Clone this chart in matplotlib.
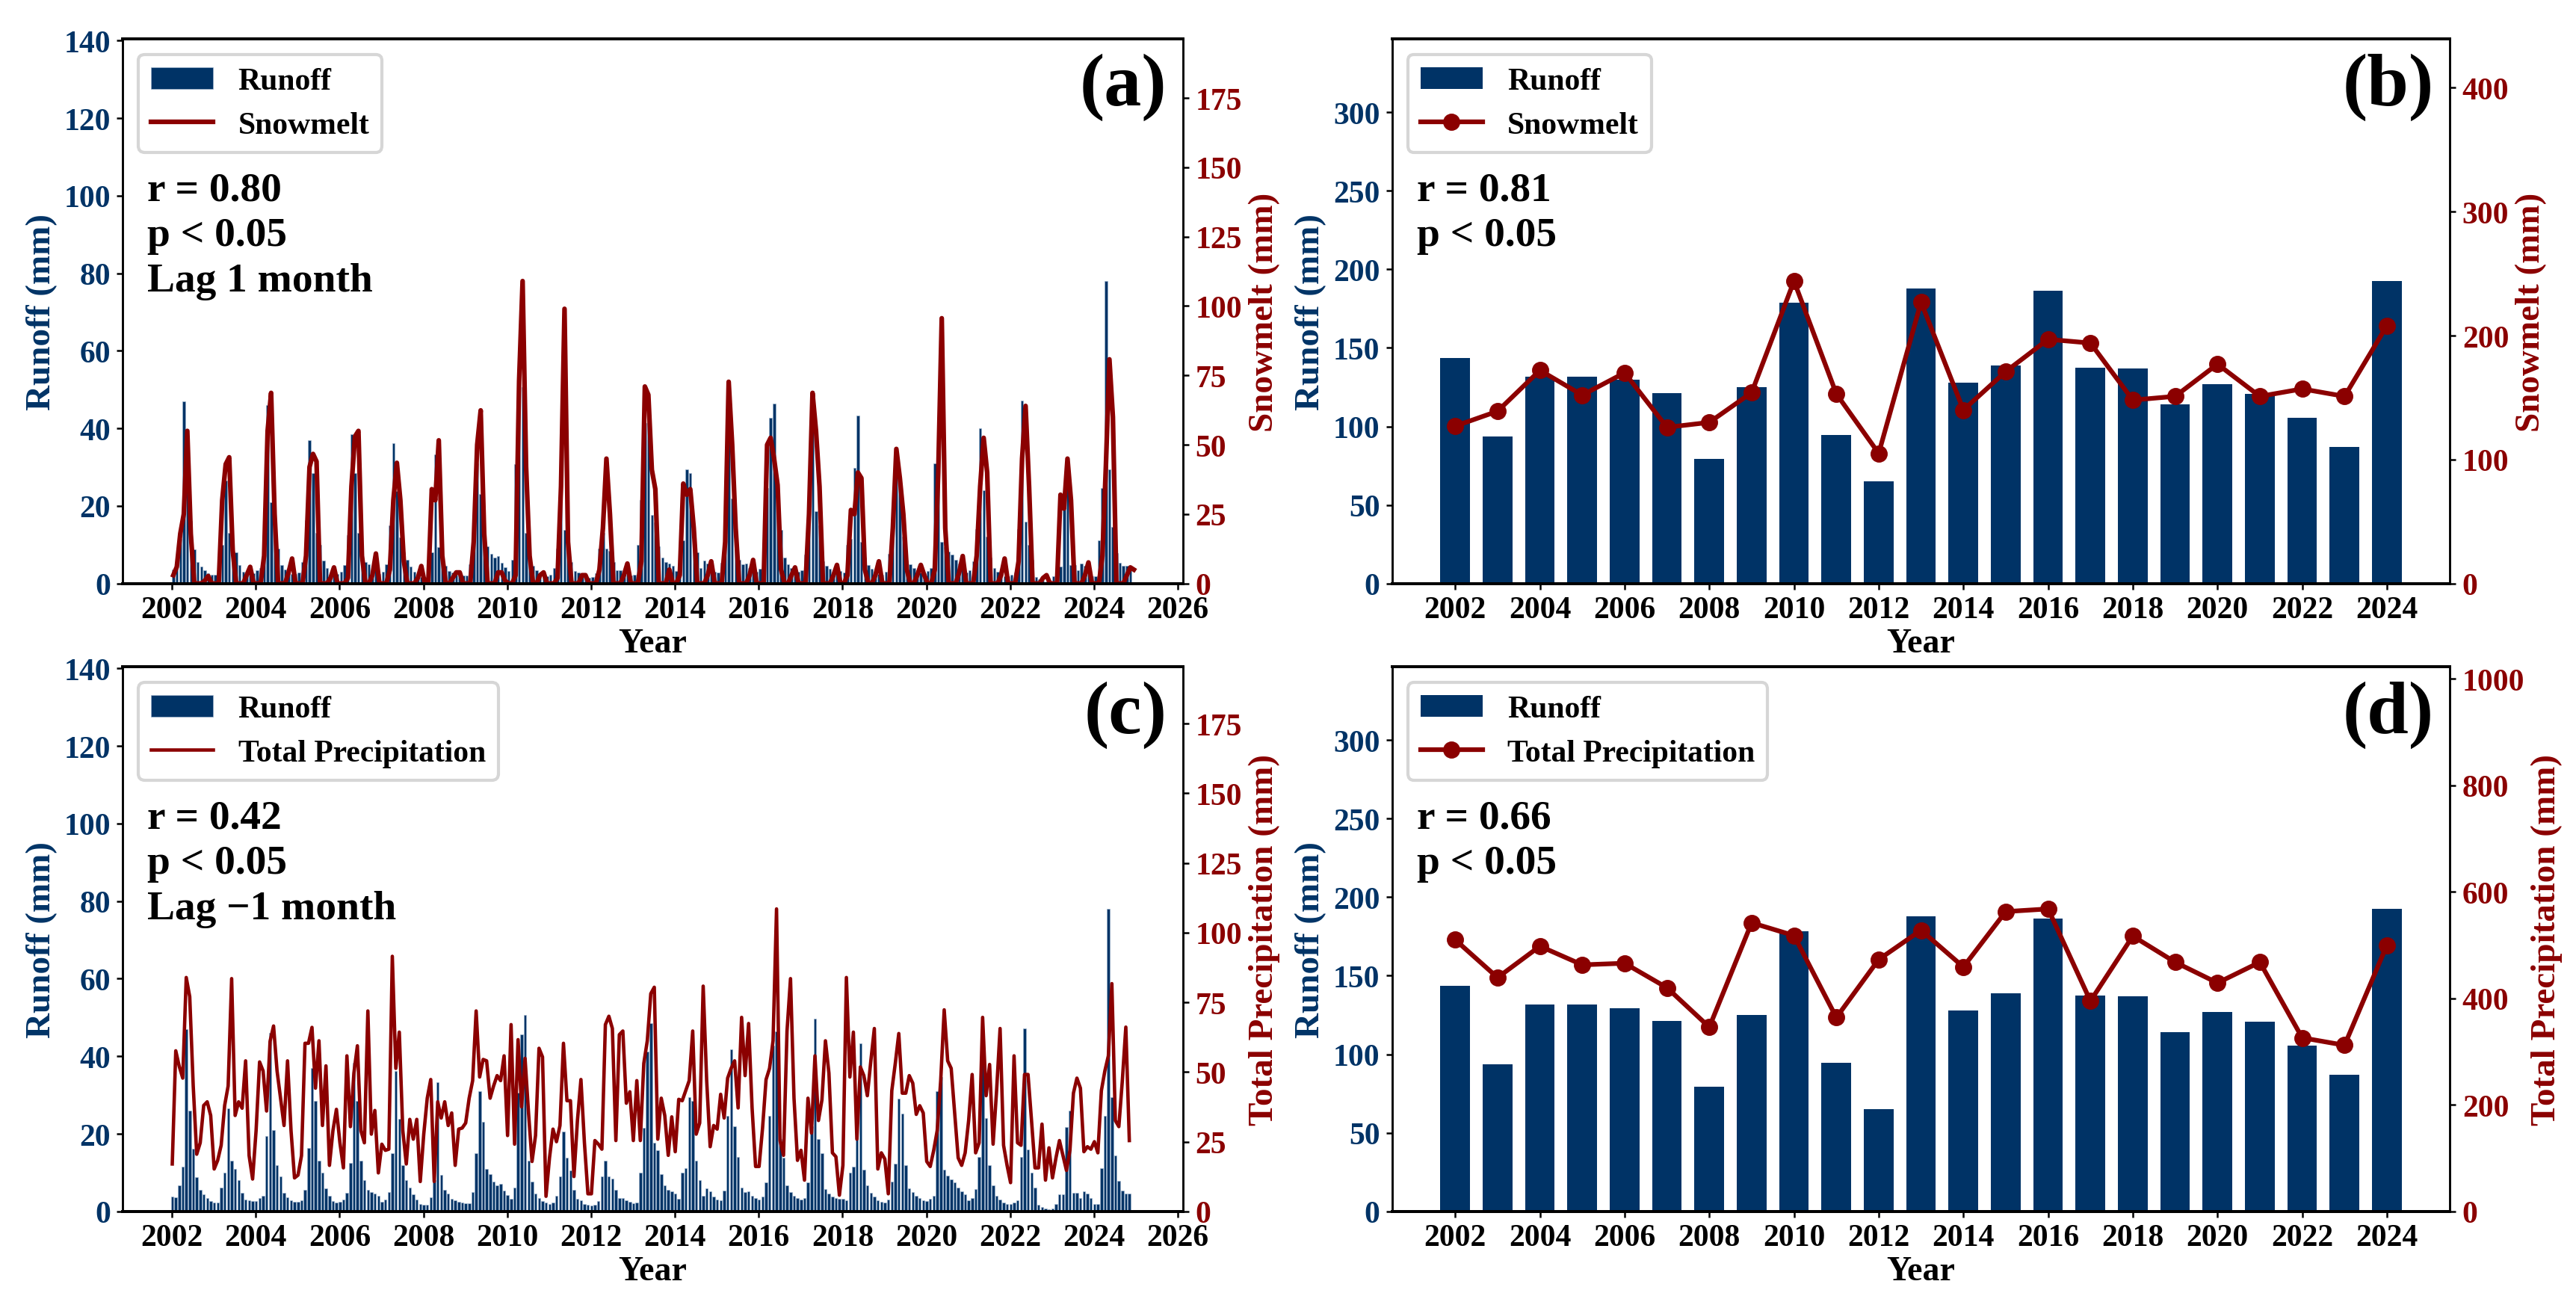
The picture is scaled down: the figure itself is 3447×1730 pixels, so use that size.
import numpy as np
import matplotlib
matplotlib.use("Agg")
import matplotlib.pyplot as plt
from matplotlib.ticker import MultipleLocator

plt.rcParams['font.family'] = ['Liberation Serif', 'DejaVu Serif']
plt.rcParams['font.weight'] = 'bold'
plt.rcParams['axes.labelweight'] = 'bold'

navy = '#003366'
red = '#8B0000'

# monthly runoff (mm), Jan 2002 - Dec 2024
runoff_monthly = [
    3.8, 3.7, 6.7, 11.5, 46.9, 26.0, 16.2, 8.8, 5.5, 4.4, 3.4, 2.6,      # 2002
    2.2, 2.2, 6.2, 10.0, 26.6, 13.0, 11.0, 8.0, 4.7, 3.1, 2.9, 2.6,      # 2003
    2.6, 3.4, 4.0, 19.5, 46.1, 21.0, 12.0, 9.0, 4.8, 3.6, 2.9, 2.4,      # 2004
    2.5, 2.9, 5.6, 16.3, 37.0, 28.4, 13.0, 10.0, 6.0, 4.0, 2.7, 2.2,     # 2005
    2.5, 3.0, 4.8, 12.5, 38.4, 28.5, 13.0, 8.0, 5.5, 4.9, 4.5, 4.0,      # 2006
    2.5, 3.0, 4.9, 14.9, 36.2, 23.8, 11.9, 8.0, 6.2, 4.3, 3.0, 1.9,      # 2007
    1.6, 1.6, 3.7, 8.0, 33.3, 9.4, 5.5, 4.5, 3.2, 2.8, 2.5, 2.2,         # 2008
    2.0, 2.0, 5.0, 15.0, 31.0, 23.0, 10.9, 9.6, 7.7, 6.7, 7.0, 5.4,      # 2009
    4.2, 3.2, 6.1, 30.7, 45.7, 50.6, 13.1, 7.7, 4.5, 3.4, 2.6, 2.2,      # 2010
    1.9, 2.2, 4.0, 9.0, 20.6, 13.8, 10.6, 5.6, 3.2, 2.8, 1.9, 1.6,       # 2011
    1.5, 1.6, 2.6, 9.1, 13.1, 9.0, 8.5, 5.6, 3.4, 3.4, 2.8, 2.4,         # 2012
    2.1, 2.2, 9.9, 21.5, 41.3, 48.5, 17.6, 15.7, 9.6, 6.7, 5.6, 5.1,     # 2013
    4.5, 3.2, 10.0, 11.2, 29.5, 28.5, 13.0, 8.0, 4.0, 6.0, 5.1, 3.8,     # 2014
    3.0, 2.9, 5.4, 24.7, 41.8, 22.0, 14.0, 6.2, 4.9, 5.1, 4.0, 3.5,      # 2015
    3.0, 3.8, 7.4, 24.7, 42.7, 46.4, 18.6, 13.8, 6.7, 4.9, 4.0, 3.4,     # 2016
    3.0, 3.5, 7.5, 22.0, 49.6, 18.6, 15.0, 5.8, 4.5, 3.8, 3.5, 3.2,      # 2017
    3.2, 2.8, 10.0, 11.5, 29.8, 43.3, 10.7, 6.7, 4.8, 3.8, 2.9, 2.4,     # 2018
    2.2, 3.0, 7.7, 12.2, 29.0, 25.3, 12.0, 6.0, 4.9, 4.0, 3.4, 2.9,      # 2019
    2.7, 3.2, 4.0, 31.0, 34.7, 10.7, 9.3, 8.3, 7.4, 6.2, 5.1, 4.3,       # 2020
    2.9, 3.5, 5.8, 14.1, 40.0, 24.0, 12.0, 6.7, 4.0, 3.0, 2.2, 1.9,      # 2021
    1.9, 2.2, 2.9, 14.1, 47.2, 16.0, 10.0, 6.2, 1.6, 1.1, 0.8, 0.6,      # 2022
    0.8, 1.9, 4.3, 4.3, 21.8, 25.9, 4.8, 4.8, 3.4, 5.1, 4.5, 3.4,        # 2023
    1.9, 1.9, 11.2, 24.7, 78.0, 29.5, 14.5, 7.8, 5.3, 4.5, 4.5, 4.0,     # 2024
]

# monthly snowmelt (mm), Jan 2002 - Dec 2024
snowmelt_monthly = [
    3, 6, 18, 25, 55, 18, 0, 0, 0, 1, 2.7, 0,
    0, 0, 30, 43, 45.5, 12, 0, 0, 0, 3, 6, 0,
    0, 0, 10, 55, 68.7, 25, 0, 0, 0, 4, 9, 0,
    0, 0, 10, 42, 46.7, 44, 0, 0, 0, 2, 5.8, 0,
    0, 0, 2, 35, 53, 55, 10, 0, 0, 3, 10.8, 0,
    0, 0, 5, 30, 43.5, 30, 8, 0, 0, 0, 2, 6.3,
    0, 0, 34, 30, 51.6, 10, 0, 0, 2, 4, 4, 0,
    0, 0, 15, 50, 62.4, 18, 0, 0, 0, 4, 4, 1,
    0, 0, 3, 73, 109, 42, 10, 0, 0, 3, 4, 0,
    0, 0, 2, 35, 99, 15, 0, 0, 0, 3, 3, 0,
    0, 0, 5, 20, 45, 25, 0, 0, 0, 3, 7.2, 0,
    0, 0, 8, 71, 68, 41, 34, 0, 0, 0, 5, 0,
    0, 3, 36, 32, 34, 20, 0, 0, 0, 3, 8, 0,
    0, 0, 15, 72.7, 50, 20, 0, 0, 0, 3, 8.5, 0,
    0, 0, 50, 52.5, 45, 35.5, 5, 0, 0, 3, 5.8, 0,
    0, 0, 25, 68.7, 55, 35, 0, 0, 0, 3, 6.7, 0,
    0, 3, 26.5, 25, 40, 38, 5, 0, 0, 3, 8, 0,
    0, 0, 20, 48.5, 38, 25, 5, 0, 0, 3, 6.7, 3,
    0, 0, 5, 40, 95.6, 20, 0, 0, 0, 4, 9.9, 0,
    0, 0, 10, 35, 52.5, 40, 0, 0, 0, 3, 9, 0,
    0, 0, 8, 45, 64, 35, 0, 0, 0, 2, 3, 0,
    0, 0, 32, 27, 45, 30, 0, 0, 0, 3, 7.6, 0,
    0, 0, 10, 42.6, 80.8, 60, 0, 0, 0, 3, 5.8, 5,
]

# monthly total precipitation (mm) as drawn in (c), Jan 2002 - Nov 2024
precip_monthly = [
    17, 57.6, 52, 47.8, 83.9, 77, 45, 20.5, 24.6, 38, 39.3, 34.4,
    15.2, 18.3, 23.7, 38, 45, 83.5, 34.4, 39.3, 37, 54, 20, 11.6,
    29, 53.6, 50.4, 36, 61, 66.5, 50.4, 40.6, 30.8, 54, 29, 12,
    13, 20, 60.3, 60.3, 66, 44.2, 61.2, 30.8, 52.2, 16.5, 29, 36.6,
    24.6, 15.6, 55.8, 30.4, 49.6, 59.4, 29, 24.6, 71.9, 27.7, 36.2, 13.8,
    24.1, 21.9, 22.3, 91.5, 51.3, 64.3, 29, 17, 33, 25.9, 33, 10.7,
    27.7, 40.6, 47.3, 10.7, 39.3, 33.5, 39.3, 30.8, 35.3, 16.5, 29.5, 29.9,
    31.7, 40.6, 46.9, 71.9, 48.2, 54.5, 54, 40.6, 45, 48.7, 46.9, 55.8,
    27.2, 67, 24.1, 61.6, 37.5, 54.9, 35.3, 17.9, 27.2, 58.5, 55.4, 5.4,
    19.2, 29.5, 25, 30.8, 60.3, 39.7, 39.7, 12.5, 32.6, 47.3, 24.6, 6.3,
    6.3, 25.4, 24.1, 22.3, 67, 70, 65.6, 25.4, 63.4, 64.7, 38.8, 42.9,
    25.4, 46.9, 25.4, 53.1, 61.2, 78.1, 80.4, 25.9, 40.6, 34.4, 20.1, 33.9,
    21.4, 40.2, 39.7, 43.3, 46.9, 64.7, 27.7, 31.7, 80.8, 46.9, 23.2, 30.8,
    29.5, 42, 33.5, 47.8, 51.3, 54, 37.1, 69.6, 48.7, 67.4, 37.1, 16.1,
    16.1, 29.9, 47.3, 51.3, 61.2, 108.5, 25.4, 20.1, 64.7, 83.5, 40.6, 18.3,
    21.9, 11.2, 40.6, 28.1, 55.8, 32.6, 40, 61.2, 49.6, 21, 19.6, 5.8,
    16.5, 83.9, 48.2, 64.3, 25.9, 51.8, 48.7, 41.5, 54, 65.6, 15.2, 21,
    18.8, 6.3, 43.3, 53.1, 63.8, 42.4, 42.4, 48.7, 46, 34.8, 37.9, 35.3,
    17.9, 16.1, 21.9, 29, 46.9, 72.3, 54, 51.3, 35.3, 19.2, 16.5, 21,
    32.6, 49.1, 21, 24.6, 69.6, 41.5, 52.7, 24.1, 43.3, 65.6, 23.7, 16.5,
    10.3, 55.8, 24.6, 23.7, 49.1, 49.1, 32.6, 15.6, 15.6, 31.3, 11.2, 22.8,
    12, 19.2, 25.4, 20.1, 14.7, 21.9, 42.4, 47.8, 44.2, 21.4, 23.2, 22.3,
    25, 21, 43.3, 50.4, 55.8, 81.7, 32.6, 30.4, 46.9, 66.1, 25.4,
]

years = list(range(2002, 2025))
runoff_annual = [143.5, 93.5, 131.5, 131.5, 129.5, 121, 79.5, 125, 178.5, 94.5, 65,
                 188, 128, 139, 186.5, 137.5, 137, 114, 127, 120.5, 105.5, 87, 192.5]
snowmelt_annual = [127, 139, 172, 152, 170, 126, 130, 154, 244, 153, 105, 227,
                   140, 171, 197, 194, 148, 151, 177, 151, 157, 151, 208]
precip_annual = [510, 439, 498, 463, 466, 420, 346, 542, 518, 364, 473, 528,
                 459, 563, 568, 395, 517, 468, 429, 468, 326, 312, 500]


def style_axes(ax, ax2, right_label):
    for a in (ax, ax2):
        for side in ('left', 'right'):
            a.spines[side].set_linewidth(0.6)
        for side in ('top', 'bottom'):
            a.spines[side].set_linewidth(0.9)
    ax.tick_params(axis='y', labelcolor=navy, labelsize=10, length=2, width=0.6, pad=2)
    ax.tick_params(axis='x', labelsize=10, length=2, width=0.6, pad=2)
    ax2.tick_params(axis='y', labelcolor=red, labelsize=10, length=2, width=0.6, pad=2)
    ax.set_ylabel('Runoff (mm)', color=navy, fontsize=11.3, labelpad=2)
    ax2.set_ylabel(right_label, color=red, fontsize=11.3, labelpad=2)
    ax.set_xlabel('Year', fontsize=11, labelpad=1)


def add_texts(ax2, stats, tag):
    ax2.text(0.023, 0.757, stats, transform=ax2.transAxes, ha='left', va='top',
             fontsize=13.3, fontweight='bold', linespacing=1.28)
    ax2.text(0.985, 0.975, tag, transform=ax2.transAxes, ha='right', va='top',
             fontsize=24, fontweight='bold')


def monthly_panel(rect, xb, yb, xl, yl, line_label, stats, tag, lw):
    ax = fig.add_axes(rect)
    bars = ax.bar(xb, yb, width=0.062, color=navy, edgecolor='#9fb4cc', linewidth=0.15,
                  label='Runoff')
    ax.set_ylim(0, max(yb) * 1.8)
    ax.yaxis.set_major_locator(MultipleLocator(20))
    ax.set_xlim(2000.83, 2026.12)
    ax.set_xticks(range(2002, 2027, 2))
    ax2 = ax.twinx()
    line, = ax2.plot(xl, yl, color=red, lw=lw, label=line_label)
    ax2.set_ylim(0, max(yl) * 1.8)
    ax2.yaxis.set_major_locator(MultipleLocator(25))
    style_axes(ax, ax2, line_label + ' (mm)')
    ax2.legend(handles=[bars, line], loc='upper left', fontsize=10)
    add_texts(ax2, stats, tag)
    return ax, ax2


def annual_panel(rect, yl, line_label, right_step, stats, tag):
    ax = fig.add_axes(rect)
    bars = ax.bar(years, runoff_annual, width=0.7, color=navy, label='Runoff')
    ax.set_ylim(0, max(runoff_annual) * 1.8)
    ax.yaxis.set_major_locator(MultipleLocator(50))
    ax.set_xticks(range(2002, 2025, 2))
    ax2 = ax.twinx()
    line, = ax2.plot(years, yl, '-o', color=red, lw=1.5, ms=4.5, label=line_label)
    ax2.set_ylim(0, max(yl) * 1.8)
    ax2.yaxis.set_major_locator(MultipleLocator(right_step))
    style_axes(ax, ax2, line_label + ' (mm)')
    ax2.legend(handles=[bars, line], loc='upper left', fontsize=10)
    add_texts(ax2, stats, tag)
    return ax, ax2


fig = plt.figure(figsize=(11.49, 5.77), dpi=300)

n = len(snowmelt_monthly)
xa = [2002 + (i + 0.4) / 12 for i in range(n)]
xc = [2002 + (i + 0.1) / 12 for i in range(len(precip_monthly))]

# (a) runoff lagged one month against snowmelt
monthly_panel([0.0477, 0.5484, 0.4115, 0.4208], xa[:-1], runoff_monthly[1:], xa,
              snowmelt_monthly, 'Snowmelt', 'r = 0.80\np < 0.05\nLag 1 month', '(a)', 1.5)
annual_panel([0.5405, 0.5484, 0.4105, 0.4208], snowmelt_annual, 'Snowmelt', 100,
             'r = 0.81\np < 0.05', '(b)')
monthly_panel([0.0477, 0.0631, 0.4115, 0.4208], xc, runoff_monthly[:len(xc)], xc,
              precip_monthly, 'Total Precipitation', 'r = 0.42\np < 0.05\nLag \u22121 month',
              '(c)', 1.1)
annual_panel([0.5405, 0.0631, 0.4105, 0.4208], precip_annual, 'Total Precipitation', 200,
             'r = 0.66\np < 0.05', '(d)')

fig.savefig('out.png', dpi=300)
